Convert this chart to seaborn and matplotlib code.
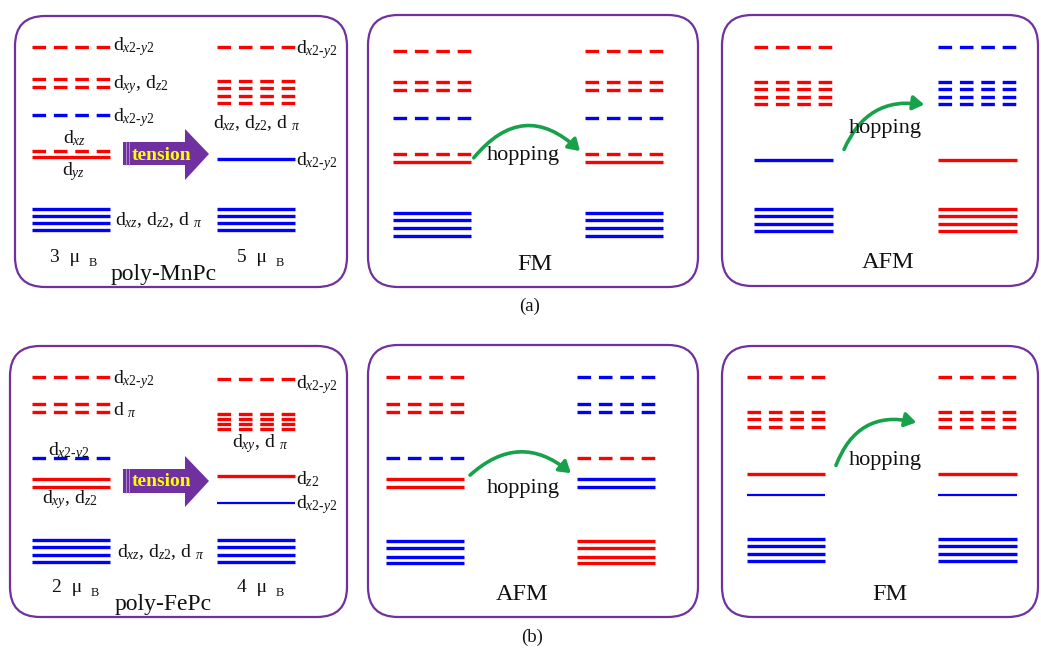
import matplotlib
matplotlib.use("Agg")
import matplotlib.pyplot as plt
import pandas as pd
import seaborn as sns
from matplotlib.patches import FancyBboxPatch, Polygon, FancyArrowPatch

sns.set_theme(style="white")
plt.rcParams["font.family"] = ["Liberation Serif", "DejaVu Serif"]
plt.rcParams["mathtext.fontset"] = "custom"
plt.rcParams["mathtext.rm"] = "Liberation Serif"
plt.rcParams["mathtext.it"] = "Liberation Serif:italic"
plt.rcParams["mathtext.bf"] = "Liberation Serif:bold"
plt.rcParams["lines.scale_dashes"] = False

# ---------------- data: energy levels (y position, spin colour, kind) ----------------
A1L = [(47, "red", "dash"), (79, "red", "dash"), (87, "red", "dash"), (115, "blue", "dash"),
       (151, "red", "dash"), (157, "red", "solid"),
       (209, "blue", "solid"), (216, "blue", "solid"), (223, "blue", "solid"), (230, "blue", "solid")]
A1R = [(47, "red", "dash"), (81, "red", "dash"), (88, "red", "dash"), (96, "red", "dash"), (103, "red", "dash"),
       (159, "blue", "solid"),
       (209, "blue", "solid"), (216, "blue", "solid"), (223, "blue", "solid"), (230, "blue", "solid")]
A2 = [(51, "red", "dash"), (82, "red", "dash"), (90, "red", "dash"), (118, "blue", "dash"),
      (154, "red", "dash"), (162, "red", "solid"),
      (213, "blue", "solid"), (220, "blue", "solid"), (228, "blue", "solid"), (236, "blue", "solid")]
A3L = [(47, "red", "dash"), (82, "red", "dash"), (89, "red", "dash"), (97, "red", "dash"), (104, "red", "dash"),
       (160, "blue", "solid"),
       (209, "blue", "solid"), (216, "blue", "solid"), (224, "blue", "solid"), (231, "blue", "solid")]
A3R = [(47, "blue", "dash"), (82, "blue", "dash"), (89, "blue", "dash"), (97, "blue", "dash"), (104, "blue", "dash"),
       (160, "red", "solid"),
       (209, "red", "solid"), (216, "red", "solid"), (224, "red", "solid"), (231, "red", "solid")]
B1L = [(377, "red", "dash"), (404, "red", "dash"), (412, "red", "dash"), (458, "blue", "dash"),
       (479, "red", "solid"), (487, "red", "solid"),
       (540, "blue", "solid"), (547, "blue", "solid"), (555, "blue", "solid"), (562, "blue", "solid")]
B1R = [(379, "red", "dash"), (414, "red", "dash"), (419, "red", "dash"), (424, "red", "dash"), (429, "red", "dash"),
       (476, "red", "solid"), (503, "blue", "thin"),
       (540, "blue", "solid"), (547, "blue", "solid"), (555, "blue", "solid"), (562, "blue", "solid")]
B2L = [(377, "red", "dash"), (404, "red", "dash"), (412, "red", "dash"), (458, "blue", "dash"),
       (479, "red", "solid"), (487, "red", "solid"),
       (541, "blue", "solid"), (548, "blue", "solid"), (557, "blue", "solid"), (563, "blue", "solid")]
B2R = [(377, "blue", "dash"), (404, "blue", "dash"), (412, "blue", "dash"), (458, "red", "dash"),
       (479, "blue", "solid"), (487, "blue", "solid"),
       (541, "red", "solid"), (548, "red", "solid"), (557, "red", "solid"), (563, "red", "solid")]
B3 = [(377, "red", "dash"), (412, "red", "dash"), (419, "red", "dash"), (427, "red", "dash"),
      (474, "red", "solid"), (495, "blue", "thin"),
      (539, "blue", "solid"), (546, "blue", "solid"), (554, "blue", "solid"), (561, "blue", "solid")]

# column extents (left x, right x) and which level list they hold
columns = [
    ((32, 110), A1L), ((217, 295), A1R),
    ((393, 471), A2), ((585, 663), A2),
    ((754, 833), A3L), ((938, 1017), A3R),
    ((32, 110), B1L), ((217, 295), B1R),
    ((386, 464), B2L), ((577, 655), B2R),
    ((747, 825), B3), ((938, 1017), B3),
]

# orbital labels: text, x, baseline y, ha
orbital_labels = [
    (r"d$_{\mathit{x2‐y2}}$", 113, 50, "left"),
    (r"d$_{xy}$, d$_{z2}$", 113, 88, "left"),
    (r"d$_{\mathit{x2‐y2}}$", 113, 121, "left"),
    (r"d$_{xz}$", 75, 143, "center"),
    (r"d$_{yz}$", 74, 175, "center"),
    (r"d$_{xz}$, d$_{z2}$, d $_{\pi}$", 115, 225, "left"),
    (r"d$_{\mathit{x2‐y2}}$", 296, 53, "left"),
    (r"d$_{xz}$, d$_{z2}$, d $_{\pi}$", 213, 128, "left"),
    (r"d$_{\mathit{x2‐y2}}$", 296, 165, "left"),
    (r"d$_{\mathit{x2‐y2}}$", 113, 383, "left"),
    (r"d $_{\pi}$", 113, 415, "left"),
    (r"d$_{\mathit{x2‐y2}}$", 48, 455, "left"),
    (r"d$_{xy}$, d$_{z2}$", 42, 503, "left"),
    (r"d$_{xz}$, d$_{z2}$, d $_{\pi}$", 117, 557, "left"),
    (r"d$_{\mathit{x2‐y2}}$", 296, 388, "left"),
    (r"d$_{xy}$, d $_{\pi}$", 232, 447, "left"),
    (r"d$_{z2}$", 296, 484, "left"),
    (r"d$_{\mathit{x2‐y2}}$", 296, 508, "left"),
]

moments = [("3", 50, 262), ("5", 237, 262), ("2", 52, 592), ("4", 237, 592)]
names = [("poly-MnPc", 164, 280), ("poly-FePc", 163, 610)]
orders = [("FM", 535, 270), ("AFM", 888, 268), ("AFM", 522, 600), ("FM", 890, 600)]
hoppings = [((472, 160), (582, 153), -0.55, 523, 160),
            ((843, 152), (927, 105), -0.40, 885, 133),
            ((468, 477), (573, 475), -0.45, 523, 493),
            ((835, 468), (919, 423), -0.45, 885, 465)]
captions = [("(a)", 530, 311), ("(b)", 532, 642)]
boxes = [(15, 16, 347, 287), (368, 15, 698, 287), (722, 15, 1038, 286),
         (10, 346, 347, 617), (368, 345, 698, 617), (722, 346, 1038, 617)]
tension_y = [(142, 165, 129, 180, 154), (469, 493, 456, 507, 481)]

PURPLE = "#7030A0"
GREEN = "#17a14b"
palette = {"red": "#ff0000", "blue": "#0000ff"}

# ---------------- figure ----------------
fig = plt.figure(figsize=(10.41, 6.48), dpi=100)
ax = fig.add_axes([0, 0, 1, 1])

rows = []
for ci, ((x0, x1), levels) in enumerate(columns):
    for li, (y, c, k) in enumerate(levels):
        seg = f"c{ci}_{li}"
        rows.append(dict(x=x0, y=y, seg=seg, color=c, kind=k))
        rows.append(dict(x=x1, y=y, seg=seg, color=c, kind=k))
df = pd.DataFrame(rows)

thick = df[df.kind != "thin"]
sns.lineplot(data=thick, x="x", y="y", units="seg", estimator=None, hue="color", style="kind",
             palette=palette, dashes={"solid": "", "dash": (9.8, 5.6)}, sort=False,
             lw=2.4, legend=False, ax=ax)
thin = df[df.kind == "thin"]
sns.lineplot(data=thin, x="x", y="y", units="seg", estimator=None, hue="color",
             palette=palette, sort=False, lw=1.6, legend=False, ax=ax)
for ln in ax.lines:
    ln.set_solid_capstyle("butt")
    ln.set_dash_capstyle("butt")

# panels
for (x0, y0, x1, y1) in boxes:
    ax.add_patch(FancyBboxPatch((x0, y0), x1 - x0, y1 - y0,
                                boxstyle="round,pad=0,rounding_size=30",
                                fc="none", ec=PURPLE, lw=1.6))

# tension arrows
for (bt, bb, ht, hb, tip) in tension_y:
    pts = [(123, bt), (185, bt), (185, ht), (209, tip), (185, hb), (185, bb), (123, bb)]
    ax.add_patch(Polygon(pts, closed=True, fc=PURPLE, ec="none"))
    for xs in (125.5, 128.5):
        ax.plot([xs, xs], [bt, bb], color="#b996d6", lw=0.6)
    ax.text(161, tip + 1, "tension", ha="center", va="center", color="#ffff00",
            fontsize=14, fontweight="bold")

# hopping arrows
for (p0, p1, rad, tx, ty) in hoppings:
    ax.add_patch(FancyArrowPatch(p0, p1, connectionstyle=f"arc3,rad={rad}",
                                 arrowstyle="-|>,head_length=0.55,head_width=0.35",
                                 mutation_scale=12, color=GREEN, lw=2.6))
    ax.text(tx, ty, "hopping", ha="center", va="baseline", fontsize=16, color="#111111")

# labels
for (t, x, y, ha) in orbital_labels:
    ax.text(x, y, t, ha=ha, va="baseline", fontsize=14, color="#111111")
for (n, x, y) in moments:
    ax.text(x, y, n + "  μ", ha="left", va="baseline", fontsize=14, color="#111111")
    ax.text(x + 39, y + 4, "B", ha="left", va="baseline", fontsize=9, color="#111111")
for (t, x, y) in names:
    ax.text(x, y, t, ha="center", va="baseline", fontsize=17, color="#111111")
for (t, x, y) in orders:
    ax.text(x, y, t, ha="center", va="baseline", fontsize=17.5, color="#111111")
for (t, x, y) in captions:
    ax.text(x, y, t, ha="center", va="baseline", fontsize=13.5, color="#111111")

ax.set_xlim(0, 1041)
ax.set_ylim(648, 0)
ax.axis("off")
fig.savefig("out.png", dpi=100, facecolor="white")
